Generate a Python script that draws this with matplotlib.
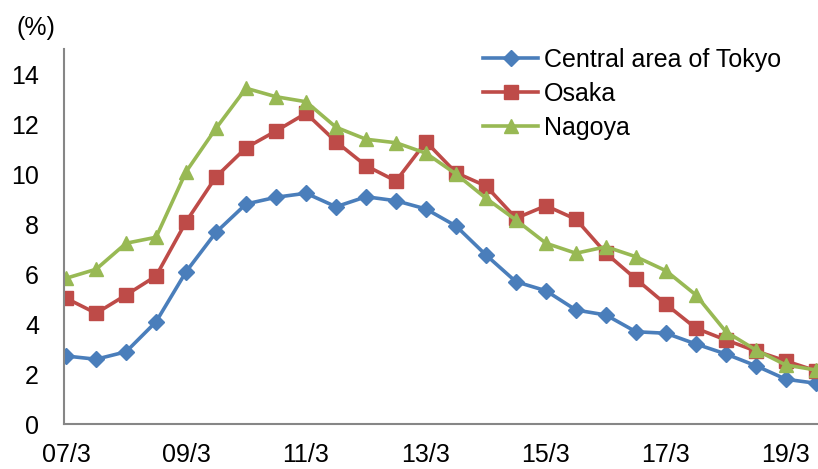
import matplotlib
matplotlib.use("Agg")
import matplotlib.pyplot as plt
import numpy as np

# semi-annual points, 07/3 .. 19/9
periods = ["07/3", "07/9", "08/3", "08/9", "09/3", "09/9", "10/3", "10/9",
           "11/3", "11/9", "12/3", "12/9", "13/3", "13/9", "14/3", "14/9",
           "15/3", "15/9", "16/3", "16/9", "17/3", "17/9", "18/3", "18/9",
           "19/3", "19/9"]

tokyo = [2.72, 2.59, 2.89, 4.09, 6.09, 7.67, 8.80, 9.07, 9.23, 8.69,
         9.09, 8.93, 8.60, 7.92, 6.76, 5.69, 5.33, 4.56, 4.36, 3.69,
         3.63, 3.20, 2.80, 2.33, 1.79, 1.63]
osaka = [5.03, 4.43, 5.16, 5.92, 8.09, 9.89, 11.05, 11.72, 12.43, 11.29,
         10.33, 9.72, 11.29, 10.05, 9.52, 8.23, 8.73, 8.19, 6.83, 5.80,
         4.79, 3.83, 3.36, 2.92, 2.52, 2.13]
nagoya = [5.83, 6.19, 7.23, 7.47, 10.09, 11.83, 13.43, 13.09, 12.89, 11.87,
          11.39, 11.25, 10.83, 10.00, 9.03, 8.16, 7.23, 6.83, 7.09, 6.69,
          6.13, 5.16, 3.69, 2.96, 2.36, 2.16]

plt.rcParams['font.family'] = ['Liberation Sans', 'DejaVu Sans']

fig = plt.figure(figsize=(8.18, 4.69), dpi=100)
ax = fig.add_axes([64/818, 45/469, 754/818, 375/469])

x = np.arange(len(periods))
ax.plot(x, tokyo, color="#4A7EBB", lw=2.6, marker="D", ms=8.5,
        label="Central area of Tokyo")
ax.plot(x, osaka, color="#BE4B48", lw=2.6, marker="s", ms=9.5,
        label="Osaka")
ax.plot(x, nagoya, color="#98B954", lw=2.6, marker="^", ms=10.5,
        label="Nagoya")

ax.set_xlim(-0.07, 25.07)
ax.set_ylim(0, 15)
ax.set_yticks(range(0, 15, 2))
ax.set_xticks(x[::4])
ax.set_xticklabels(periods[::4])
ax.tick_params(length=0, labelsize=18)
ax.tick_params(axis="y", pad=18)
ax.tick_params(axis="x", pad=14)

for s in ["top", "right"]:
    ax.spines[s].set_visible(False)
for s in ["left", "bottom"]:
    ax.spines[s].set_color("#868686")
    ax.spines[s].set_linewidth(1.5)

fig.text(16/818, 1 - 28/469, "(%)", fontsize=18, va="center", ha="left")

ax.legend(loc="upper left", bbox_to_anchor=(483/818, 1 - 48/469),
          bbox_transform=fig.transFigure, frameon=False,
          fontsize=18, handlelength=2.2, handletextpad=0.25,
          labelspacing=0.4, borderpad=0, borderaxespad=0)

fig.savefig("out.png", dpi=100)
